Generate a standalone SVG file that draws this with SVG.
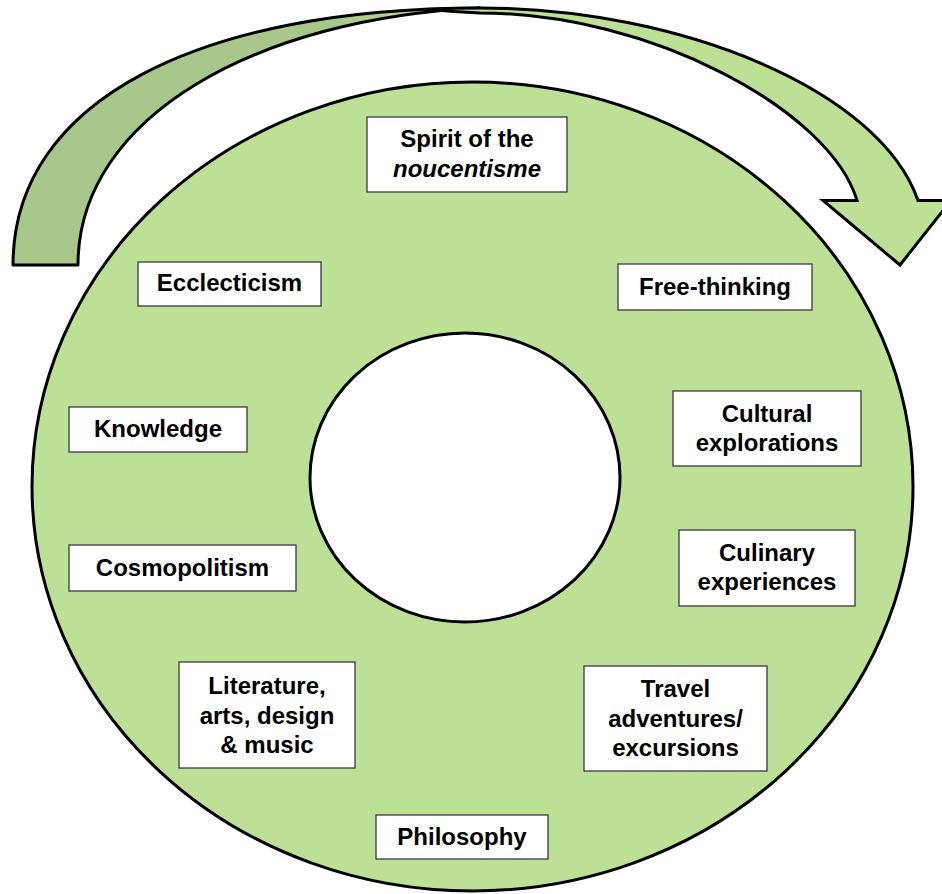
<svg xmlns="http://www.w3.org/2000/svg" width="942" height="894" viewBox="0 0 942 894">
<defs>
  <linearGradient id="backShade" gradientUnits="userSpaceOnUse" x1="330" y1="0" x2="430" y2="0">
    <stop offset="0" stop-color="#a8c78a"/>
    <stop offset="1" stop-color="#b6dc90"/>
  </linearGradient>
</defs>
<style>
  .box { fill: #ffffff; stroke: #3a3a3a; stroke-width: 1.3; }
  .lbl { font-family: "Liberation Sans", Arial, sans-serif; font-size: 24px; font-weight: bold; fill: #000; text-anchor: middle; }
  .it { font-style: italic; }
  .shape { stroke: #000; stroke-width: 3; stroke-linejoin: round; }
  .head { stroke: #000; stroke-width: 3; stroke-linejoin: miter; }
</style>
<rect x="0" y="0" width="942" height="894" fill="#ffffff"/>
<g id="arrow">
  <path class="shape" fill="url(#backShade)" d="M 13,265 C 13,100 200,8 480,8 C 260,18 78,115 78,265 Z"/>
  <path class="head" fill="#bbe096" d="M 430,9.5 Q 455,8 480,8 C 680,8 880,90 918,200.5 L 951,200.5 L 900,265 L 823,200.5 L 857,200.5 C 830,110 650,13 480,13 Q 455,12 430,9.5 Z"/>
</g>
<g id="ring">
  <path class="shape" fill="#bbe096" fill-rule="evenodd" d="M 32,486.5 A 440.5,404.5 0 1 0 913,486.5 A 440.5,404.5 0 1 0 32,486.5 Z M 310,477.5 A 155,144.5 0 1 0 620,477.5 A 155,144.5 0 1 0 310,477.5 Z"/>
</g>
<g id="connectors"></g>
<g id="n-spirit">
  <rect class="box" x="367" y="117" width="200" height="75"/>
  <text class="lbl" x="467" y="147">Spirit of the</text>
  <text class="lbl it" x="467" y="177">noucentisme</text>
</g>
<g id="n-ecclecticism">
  <rect class="box" x="138" y="262" width="183" height="44"/>
  <text class="lbl" x="229.5" y="291">Ecclecticism</text>
</g>
<g id="n-freethinking">
  <rect class="box" x="618" y="264" width="194" height="46"/>
  <text class="lbl" x="715" y="295">Free-thinking</text>
</g>
<g id="n-knowledge">
  <rect class="box" x="69" y="407" width="178" height="45"/>
  <text class="lbl" x="158" y="437">Knowledge</text>
</g>
<g id="n-cultural">
  <rect class="box" x="673" y="391" width="188" height="75"/>
  <text class="lbl" x="767" y="422">Cultural</text>
  <text class="lbl" x="767" y="451">explorations</text>
</g>
<g id="n-cosmopolitism">
  <rect class="box" x="69" y="545" width="227" height="46"/>
  <text class="lbl" x="182.5" y="576">Cosmopolitism</text>
</g>
<g id="n-culinary">
  <rect class="box" x="679" y="530" width="176" height="76"/>
  <text class="lbl" x="767" y="561">Culinary</text>
  <text class="lbl" x="767" y="590">experiences</text>
</g>
<g id="n-literature">
  <rect class="box" x="179" y="662" width="176" height="106"/>
  <text class="lbl" x="267" y="694">Literature,</text>
  <text class="lbl" x="267" y="723.5">arts, design</text>
  <text class="lbl" x="267" y="753">&amp; music</text>
</g>
<g id="n-travel">
  <rect class="box" x="584" y="666" width="183" height="105"/>
  <text class="lbl" x="675.5" y="697">Travel</text>
  <text class="lbl" x="675.5" y="727">adventures/</text>
  <text class="lbl" x="675.5" y="756">excursions</text>
</g>
<g id="n-philosophy">
  <rect class="box" x="376" y="815" width="172" height="44"/>
  <text class="lbl" x="462" y="845">Philosophy</text>
</g>
</svg>
